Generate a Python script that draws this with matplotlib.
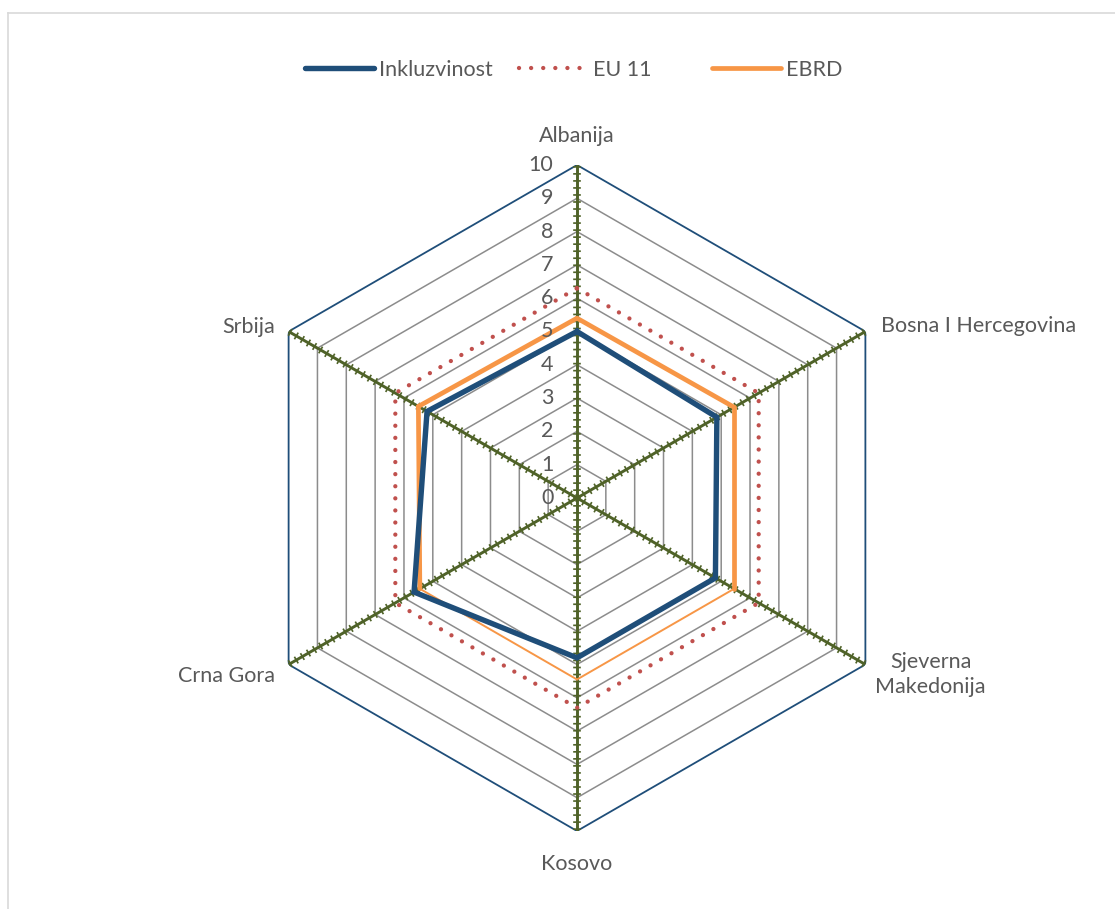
import numpy as np
import matplotlib
matplotlib.use("Agg")
import matplotlib.pyplot as plt
from matplotlib.lines import Line2D

# Data
categories = ["Albanija", "Bosna I Hercegovina", "Sjeverna\nMakedonija",
              "Kosovo", "Crna Gora", "Srbija"]
inkluzivnost = [5.0, 4.85, 4.8, 4.8, 5.65, 5.2]
eu11 = [6.3, 6.3, 6.3, 6.3, 6.3, 6.3]
ebrd = [5.4, 5.45, 5.45, 5.45, 5.45, 5.5]
series_names = ["Inkluzvinost", "EU 11", "EBRD"]
r_ticks = list(range(0, 11))

# Styles
C_BLUE = "#1F4E79"
C_RED = "#C0504D"
C_ORANGE = "#F79646"
C_OLIVE = "#4F6228"
C_GRID = "#8C8C8C"
C_TEXT = "#595959"
FONT = ["Lato", "DejaVu Sans"]
plt.rcParams["font.family"] = FONT
FS = 15.5

W, H = 1115, 909
fig = plt.figure(figsize=(W / 100, H / 100), dpi=100)
fig.patch.set_facecolor("white")

# Chart frame (light grey border)
fig.add_artist(Line2D([8 / W, 1.0], [1 - 13 / H, 1 - 13 / H], color="#D9D9D9", lw=1.2))
fig.add_artist(Line2D([8 / W, 8 / W], [1 - 13 / H, 0.0], color="#D9D9D9", lw=1.2))

cx, cy, rad = 577, 498, 333
ax = fig.add_axes([(cx - rad) / W, 1 - (cy + rad) / H, 2 * rad / W, 2 * rad / H],
                  projection="polar")
ax.set_theta_zero_location("N")
ax.set_theta_direction(-1)
ax.set_ylim(0, 10)
ax.grid(False)
ax.spines["polar"].set_visible(False)
ax.set_xticks([])
ax.set_yticks([])
ax.patch.set_alpha(0)

n = len(categories)
theta = np.deg2rad(np.arange(n) * 360.0 / n)
theta_c = np.append(theta, theta[0])

def closed(v):
    return np.append(v, v[0])

# Hexagonal gridlines
for r in r_ticks[1:]:
    ax.plot(theta_c, [r] * (n + 1),
            color=C_BLUE if r == 10 else C_GRID,
            lw=1.3 if r == 10 else 1.1, zorder=1, solid_joinstyle="miter")

# Spokes with comb-like tick pattern
for t in theta:
    ax.plot([t, t], [0, 10], color=C_OLIVE, lw=2.1, zorder=2)
    ax.plot([t, t], [0, 10], color=C_OLIVE, lw=5.5, zorder=2,
            linestyle=(0, (0.22, 0.7)), dash_capstyle="butt")

# Radial tick labels
for r in r_ticks:
    ax.annotate(str(r), xy=(0, r), xytext=(-17, 0), textcoords="offset points",
                ha="right", va="center", fontsize=FS, color=C_TEXT, zorder=5)

# Series
EU_STYLE = dict(color=C_RED, lw=3.1, linestyle=(0, (0.01, 2.8)), dash_capstyle="round")
ax.plot(theta_c, closed(eu11), zorder=3, **EU_STYLE)
ebrd_widths = [3.4, 3.4, 1.4, 1.4, 3.4, 3.4]
ebrd_c = closed(ebrd)
for i in range(n):
    ax.plot(theta_c[i:i + 2], ebrd_c[i:i + 2], color=C_ORANGE, lw=ebrd_widths[i],
            solid_capstyle="round", zorder=4)
ax.plot(theta_c, closed(inkluzivnost), color=C_BLUE, lw=3.9,
        solid_joinstyle="miter", zorder=4)

# Category labels
label_pos = [((0, 21), "center", "center"),
             ((11, 4), "left", "center"),
             ((47, -7), "center", "center"),
             ((0, -24), "center", "center"),
             ((-10, -8), "right", "center"),
             ((-10, 3), "right", "center")]
for t, name, (off, ha, va) in zip(theta, categories, label_pos):
    ax.annotate(name, xy=(t, 10), xytext=off, textcoords="offset points",
                ha=ha, va=va, fontsize=FS, color=C_TEXT, linespacing=1.3,
                annotation_clip=False)

# Legend: one entry per slot, laid out across the top
handles = [
    Line2D([], [], color=C_BLUE, lw=3.9, solid_capstyle="round"),
    Line2D([], [], **EU_STYLE),
    Line2D([], [], color=C_ORANGE, lw=3.4, solid_capstyle="round"),
]
slot_x = [305, 519, 712]
for h, name, x in zip(handles, series_names, slot_x):
    leg = fig.legend([h], [name], loc="center left",
                     bbox_to_anchor=(x / W, 1 - 70 / H), frameon=False,
                     fontsize=FS, handlelength=3.2, handletextpad=0.25,
                     borderpad=0, borderaxespad=0)
    for txt in leg.get_texts():
        txt.set_color(C_TEXT)

fig.savefig("out.png", dpi=100, facecolor="white")
